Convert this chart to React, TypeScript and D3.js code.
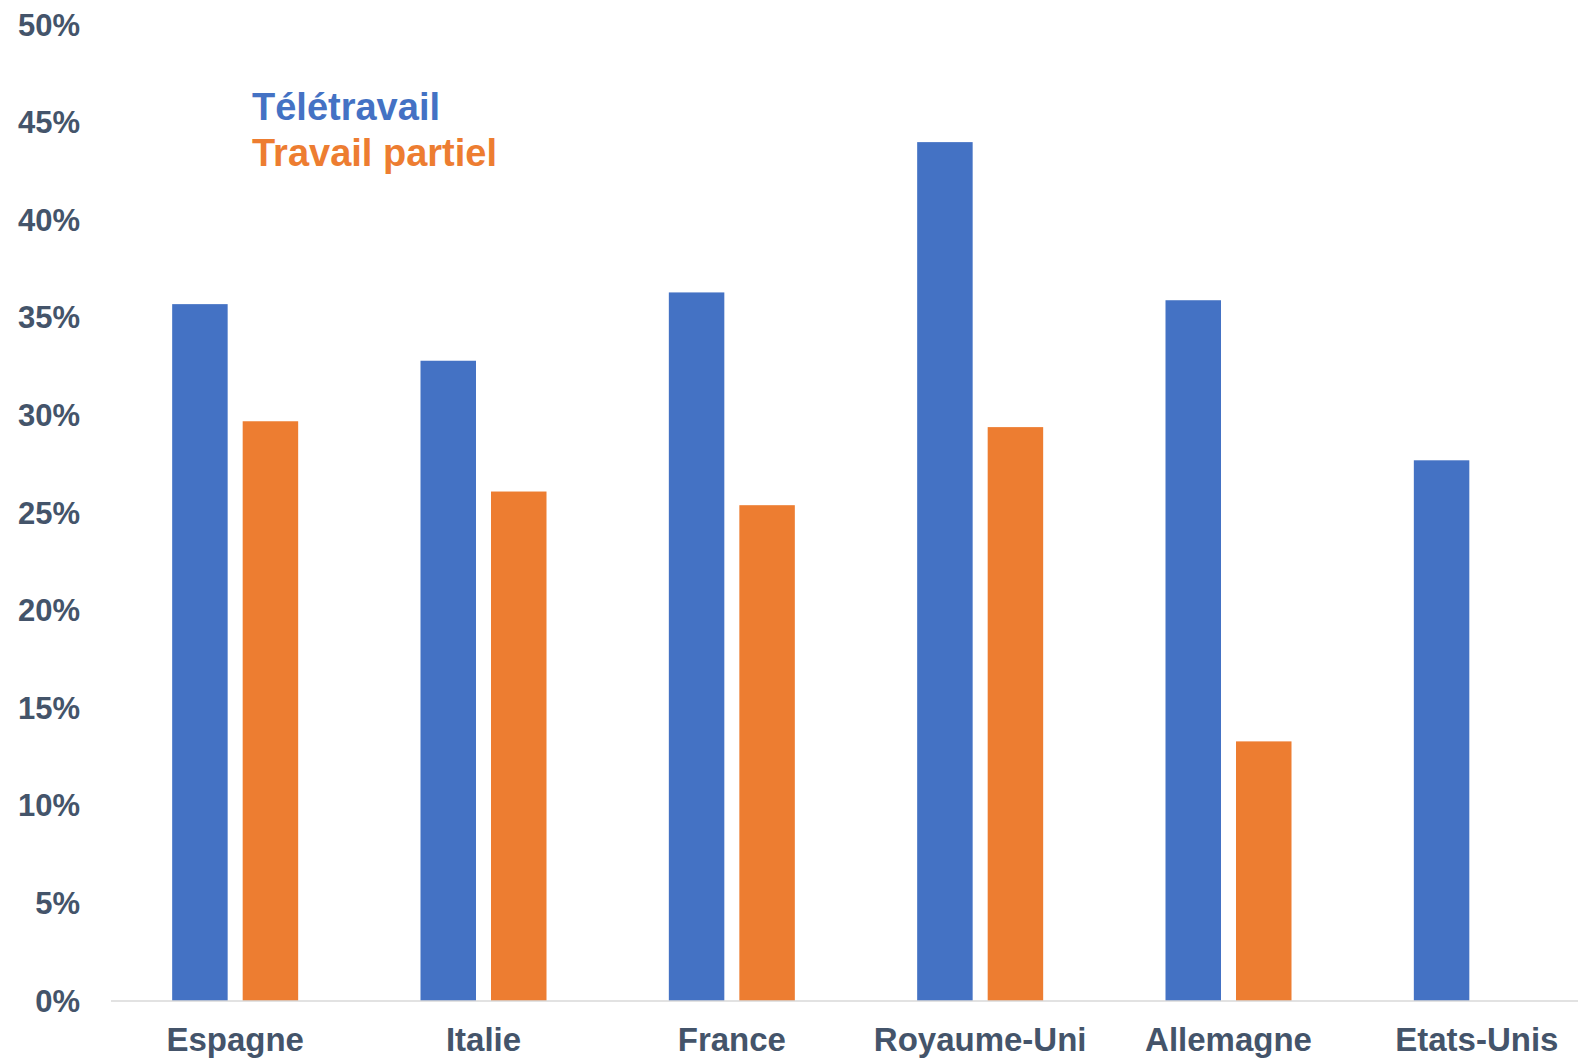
import React from "react";
import * as d3 from "d3";

const categories = ["Espagne", "Italie", "France", "Royaume-Uni", "Allemagne", "Etats-Unis"];
const series = ["Télétravail", "Travail partiel"];
const teletravail = [35.7, 32.8, 36.3, 44.0, 35.9, 27.7];
const travailPartiel = [29.7, 26.1, 25.4, 29.4, 13.3, null];
const yTicks = [0, 5, 10, 15, 20, 25, 30, 35, 40, 45, 50];
const colors = ["#4472C4", "#ED7D31"];

const W = 1578;
const H = 1059;
const textColor = "#44546A";
const font = "'Liberation Sans', Arial, sans-serif";

export default function App() {
  const y = d3.scaleLinear().domain([0, 50]).range([1001, 25]);
  const x0 = d3.scaleBand<string>().domain(categories).range([111, 1601]).paddingInner(0).paddingOuter(0);
  const bw = x0.bandwidth();
  const x1 = d3
    .scaleBand<string>()
    .domain(series)
    .range([bw / 2 - 63, bw / 2 + 63])
    .paddingInner(0.213)
    .paddingOuter(0);
  const values = [teletravail, travailPartiel];

  return (
    <svg
      width={W}
      height={H}
      style={{ position: "absolute", left: 0, top: 0, background: "#fff" }}
      fontFamily={font}
    >
      {categories.map((c, i) => (
        <g key={c} transform={`translate(${x0(c)},0)`}>
          {series.map((s, si) => {
            const v = values[si][i];
            if (v == null) return null;
            return (
              <rect
                key={s}
                x={x1(s)}
                width={x1.bandwidth()}
                y={y(v)}
                height={y(0) - y(v)}
                fill={colors[si]}
              />
            );
          })}
        </g>
      ))}
      <line x1={111} x2={W} y1={y(0)} y2={y(0)} stroke="#D9D9D9" strokeWidth={1.5} />
      {yTicks.map((t) => (
        <text
          key={t}
          x={80}
          y={y(t)}
          textAnchor="end"
          dominantBaseline="central"
          fontSize={31}
          fontWeight="bold"
          fill={textColor}
        >
          {t}%
        </text>
      ))}
      {categories.map((c) => (
        <text
          key={c}
          x={(x0(c) as number) + bw / 2}
          y={1051}
          textAnchor="middle"
          fontSize={33}
          fontWeight="bold"
          fill={textColor}
        >
          {c}
        </text>
      ))}
      {series.map((s, si) => (
        <text
          key={s}
          x={252}
          y={120 + si * 46}
          fontSize={38}
          fontWeight="bold"
          fill={colors[si]}
        >
          {s}
        </text>
      ))}
    </svg>
  );
}
